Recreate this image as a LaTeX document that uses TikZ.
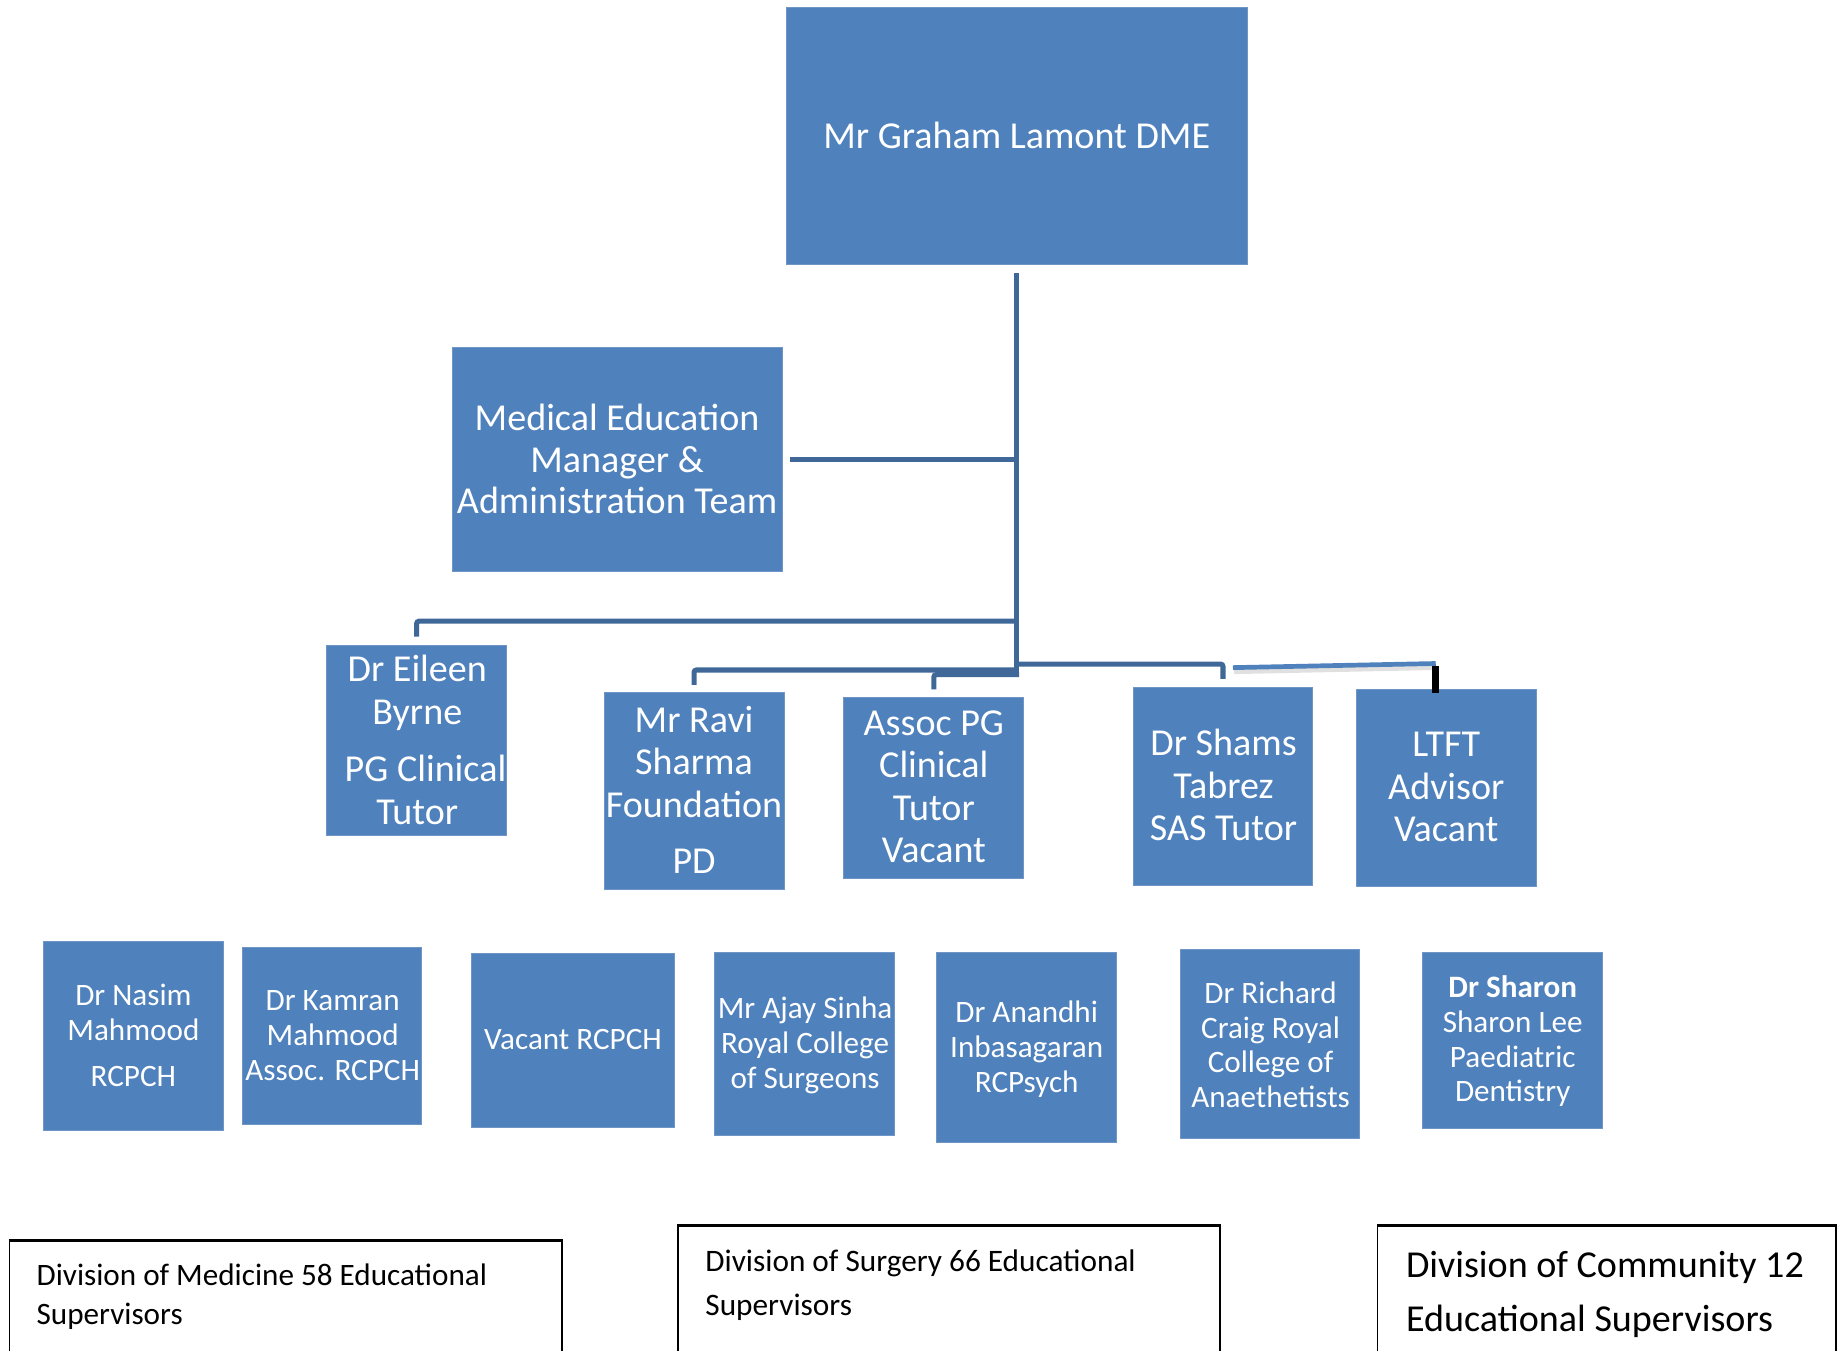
\documentclass[tikz,border=0pt]{standalone}
\usepackage{fontspec}
\setmainfont{Carlito}
\usetikzlibrary{calc}
\definecolor{boxblue}{HTML}{4F81BD}
\definecolor{boxedge}{HTML}{7096C8}
\definecolor{linkblue}{HTML}{3F6797}
\definecolor{lightlink}{HTML}{4F81BD}

% a filled org-chart box given by its corners
\newcommand\orgunit[5]{%
  \node[obox, minimum width={(#4-#2)*1pt}, minimum height={(#5-#3)*1pt}]
    (#1) at ({(#2+#4)/2},{(#3+#5)/2}) {};}
% an outlined division box given by its corners
\newcommand\divunit[5]{%
  \node[dbox, minimum width={(#4-#2)*1pt}, minimum height={(#5-#3)*1pt}]
    (#1) at ({(#2+#4)/2},{(#3+#5)/2}) {};
  \draw[line width=2.4pt] (#1.north west) -- (#1.north east);}

\begin{document}
\begin{tikzpicture}[x=1pt,y=-1pt,
  obox/.style={fill=boxblue, draw=boxedge, line width=0.8pt, inner sep=0pt},
  dbox/.style={fill=white, draw=black, line width=1.3pt, inner sep=0pt},
  bigtext/.style={text=white, inner sep=0pt, align=center,
    font={\fontsize{32.4}{36}\selectfont}},
  smalltext/.style={text=white, inner sep=0pt, align=center,
    font={\fontsize{26.5}{29.5}\selectfont}},
  divtext/.style={text=black, inner sep=0pt, align=left, anchor=west},
  conn/.style={draw=linkblue, line width=4.3pt, rounded corners=2pt},
  lightconn/.style={draw=lightlink, line width=4pt},
  tick/.style={draw=black, line width=6pt},
]
\useasboundingbox (0,0) rectangle (1568,1149);
\clip (0,0) rectangle (1568,1149);

% ---- head of department ----
\orgunit{top}{669}{6}{1061}{225}
\node[bigtext] (top-t) at (865,115) {Mr Graham Lamont DME};

% ---- administration ----
\orgunit{meded}{385}{296}{666}{486}
\node[bigtext, font={\fontsize{32.4}{35.5}\selectfont}] (meded-t) at (525,390.5)
  {Medical Education\\Manager \&\\Administration Team};

% ---- tutors ----
\orgunit{eileen}{278}{549}{431}{711}
\node[bigtext] (eileen-t) at (355,629.5)
  {Dr Eileen\\Byrne\\[13pt]\hspace*{14pt}PG Clinical\\Tutor};

\orgunit{ravi}{514}{589}{667}{757}
\node[bigtext] (ravi-t) at (590.5,672)
  {Mr Ravi\\Sharma\\Foundation\\[12pt]PD};

\orgunit{assoc}{718}{593}{871}{747}
\node[bigtext] (assoc-t) at (794.5,669.5)
  {Assoc PG\\Clinical\\Tutor\\Vacant};

\orgunit{shams}{964}{585}{1117}{753}
\node[bigtext] (shams-t) at (1041,668)
  {Dr Shams\\Tabrez\\SAS Tutor};

\orgunit{ltft}{1154}{587}{1307}{754}
\node[bigtext] (ltft-t) at (1230.5,669.5)
  {LTFT\\Advisor\\Vacant};

% ---- college tutors ----
\orgunit{nasim}{37}{801}{190}{962}
\node[smalltext] (nasim-t) at (113.5,881)
  {Dr Nasim\\Mahmood\\[10pt]RCPCH};

\orgunit{kamran}{206}{806}{359}{957}
\node[smalltext] (kamran-t) at (283,881)
  {Dr Kamran\\Mahmood\\Assoc. RCPCH};

\orgunit{vacant}{401}{811}{574}{959}
\node[smalltext] (vacant-t) at (487.5,884) {Vacant RCPCH};

\orgunit{ajay}{608}{810}{761}{966}
\node[smalltext] (ajay-t) at (685,889.5)
  {Mr Ajay Sinha\\Royal College\\of Surgeons};

\orgunit{anandhi}{797}{810}{950}{972}
\node[smalltext] (anandhi-t) at (873.5,892.5)
  {Dr Anandhi\\Inbasagaran\\RCPsych};

\orgunit{richard}{1004}{808}{1157}{969}
\node[smalltext] (richard-t) at (1081,889)
  {Dr Richard\\Craig Royal\\College of\\Anaethetists};

\orgunit{sharon}{1210}{810}{1363}{960}
\node[smalltext] (sharon-t) at (1287,886)
  {\textbf{Dr Sharon}\\Sharon Lee\\Paediatric\\Dentistry};

% ---- divisions ----
\divunit{med}{8}{1056}{478}{1175}
\node[divtext, font={\fontsize{26.5}{33}\selectfont}] (med-t) at (31,1103.5)
  {Division of Medicine 58 Educational\\Supervisors};

\divunit{surg}{577}{1043}{1038}{1175}
\node[divtext, font={\fontsize{26.6}{37}\selectfont}] (surg-t) at (600,1093.5)
  {Division of Surgery 66 Educational\\Supervisors};

\divunit{comm}{1172}{1043}{1562}{1175}
\node[divtext, font={\fontsize{32.4}{46}\selectfont}] (comm-t) at (1196,1101.5)
  {Division of Community 12\\Educational Supervisors};

% ---- reporting lines ----
\coordinate (trunkend) at (865,576);
\draw[conn] ([yshift=-7pt]top.south) -- (trunkend);
\draw[conn] ([xshift=6pt]meded.east) -- (meded.east -| top.south);

\coordinate (busE) at (865,528.5);
\draw[conn] (busE) -- (busE -| eileen.north) -- ([yshift=7pt]eileen.north);

\coordinate (busR) at (865,570);
\draw[conn] (busR) -- (busR -| ravi.north) -- ([yshift=6pt]ravi.north);

\coordinate (busA) at (867,574);
\draw[conn] (busA) -- (busA -| assoc.north) -- ([yshift=6pt]assoc.north);

\coordinate (busS) at (863,565);
\draw[conn] (busS) -- (busS -| shams.north) -- ([yshift=7pt]shams.north);

\coordinate (ltA) at (1049,568);
\coordinate (ltB) at (1221.5,564.5);
\draw[draw=black, opacity=0.12, line width=5pt] ($(ltA)+(1,3)$) -- ($(ltB)+(0,3)$);
\draw[lightconn] (ltA) -- (ltB);
\draw[tick] (1221.5,567) -- ($(ltB |- ltft.north)+(0,3)$);
\end{tikzpicture}
\end{document}
